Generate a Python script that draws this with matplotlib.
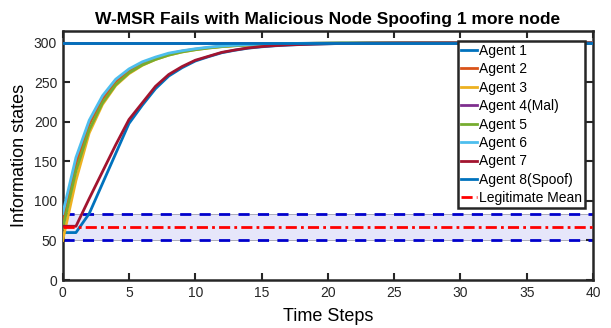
import matplotlib
matplotlib.use("Agg")
import matplotlib.pyplot as plt
import numpy as np

plt.rcParams['font.family'] = ['Liberation Sans', 'DejaVu Sans']

t = list(range(41))
tail_fast = [299.8, 299.85, 299.9, 299.9, 299.95, 299.95] + [300] * 14
tail_slow = [299.2, 299.4, 299.6, 299.7, 299.8, 299.85, 299.9, 299.9, 299.95, 299.95] + [300] * 10

agent1 = [60, 60, 84, 122, 160, 198, 221, 242, 258, 268.5, 277, 282.5, 287.5, 290.7, 293.3, 295, 296.3, 297.2, 297.9, 298.4, 298.8] + tail_slow
agent2 = [70, 147, 197, 229, 251, 265, 274.5, 281, 286, 289.5, 292, 294, 295.5, 296.7, 297.5, 298.2, 298.6, 299, 299.3, 299.5, 299.6] + tail_fast
agent3 = [50, 126, 186, 222, 246, 261, 271.5, 279, 284.5, 288.5, 291.3, 293.5, 295.2, 296.4, 297.3, 298, 298.5, 298.9, 299.2, 299.4, 299.6] + tail_fast
agent4 = [300] * 41
agent5 = [65, 138, 190, 224, 247, 262, 272, 279, 284.5, 288.5, 291.3, 293.5, 295.2, 296.4, 297.3, 298, 298.5, 298.9, 299.2, 299.4, 299.6] + tail_fast
agent6 = [84, 155, 202, 233, 254, 267, 276, 282, 287, 290, 292.5, 294.5, 296, 297, 297.8, 298.4, 298.8, 299.1, 299.4, 299.6, 299.7] + tail_fast
agent7 = [68, 68, 103, 137, 171, 203, 224, 245, 260, 270, 278, 283, 288, 291, 293.6, 295.3, 296.5, 297.4, 298, 298.5, 298.9] + tail_slow
agent8 = [300] * 41

legit_mean = 67
band_low = 50
band_high = 84

labels = ['Agent 1', 'Agent 2', 'Agent 3', 'Agent 4(Mal)', 'Agent 5', 'Agent 6', 'Agent 7', 'Agent 8(Spoof)']
colors = ['#0072BD', '#D95319', '#EDB120', '#7E2F8E', '#77AC30', '#4DBEEE', '#A2142F', '#0072BD']
series = [agent1, agent2, agent3, agent4, agent5, agent6, agent7, agent8]

fig = plt.figure(figsize=(6.11, 3.28), dpi=100)
ax = fig.add_axes([0.1026, 0.1463, 0.868, 0.7592])

ax.fill_between([0, 40], band_low, band_high, color='#E6E6FA', edgecolor='#A0A0B0', linewidth=0.6, zorder=1)
ax.plot([0, 40], [band_low, band_low], color='#0000CC', ls=(0, (4, 3)), lw=2, zorder=2)
ax.plot([0, 40], [band_high, band_high], color='#0000CC', ls=(0, (4, 3)), lw=2, zorder=2)

handles = []
for s, c, l in zip(series, colors, labels):
    h, = ax.plot(t, s, color=c, lw=2, label=l, zorder=3)
    handles.append(h)
hm, = ax.plot([0, 40], [legit_mean, legit_mean], color='#FF0000', ls=(0, (4, 1.5, 1, 1.5)), lw=2, label='Legitimate Mean', zorder=4)
handles.append(hm)

ax.set_xlim(0, 40)
ax.set_ylim(0, 315)
ax.set_xticks(range(0, 41, 5))
ax.set_yticks(range(0, 301, 50))
ax.tick_params(direction='in', top=True, right=True, length=5, width=1.5, labelsize=10, colors='#262626', pad=4)
for sp in ax.spines.values():
    sp.set_linewidth(1.8)
    sp.set_color('#262626')

ax.set_title('W-MSR Fails with Malicious Node Spoofing 1 more node', fontsize=12.5, fontweight='bold', pad=5)
ax.set_xlabel('Time Steps', fontsize=13, labelpad=6)
ax.set_ylabel('Information states', fontsize=13, labelpad=4)

leg = ax.legend(handles=handles, loc='upper right', bbox_to_anchor=(0.985, 0.96), borderaxespad=0,
                fontsize=10, fancybox=False, framealpha=1, edgecolor='#262626',
                handlelength=1.1, handletextpad=0.2, labelspacing=0.32, borderpad=0.2)
leg.get_frame().set_linewidth(1.8)

fig.savefig('out.png', dpi=100)
